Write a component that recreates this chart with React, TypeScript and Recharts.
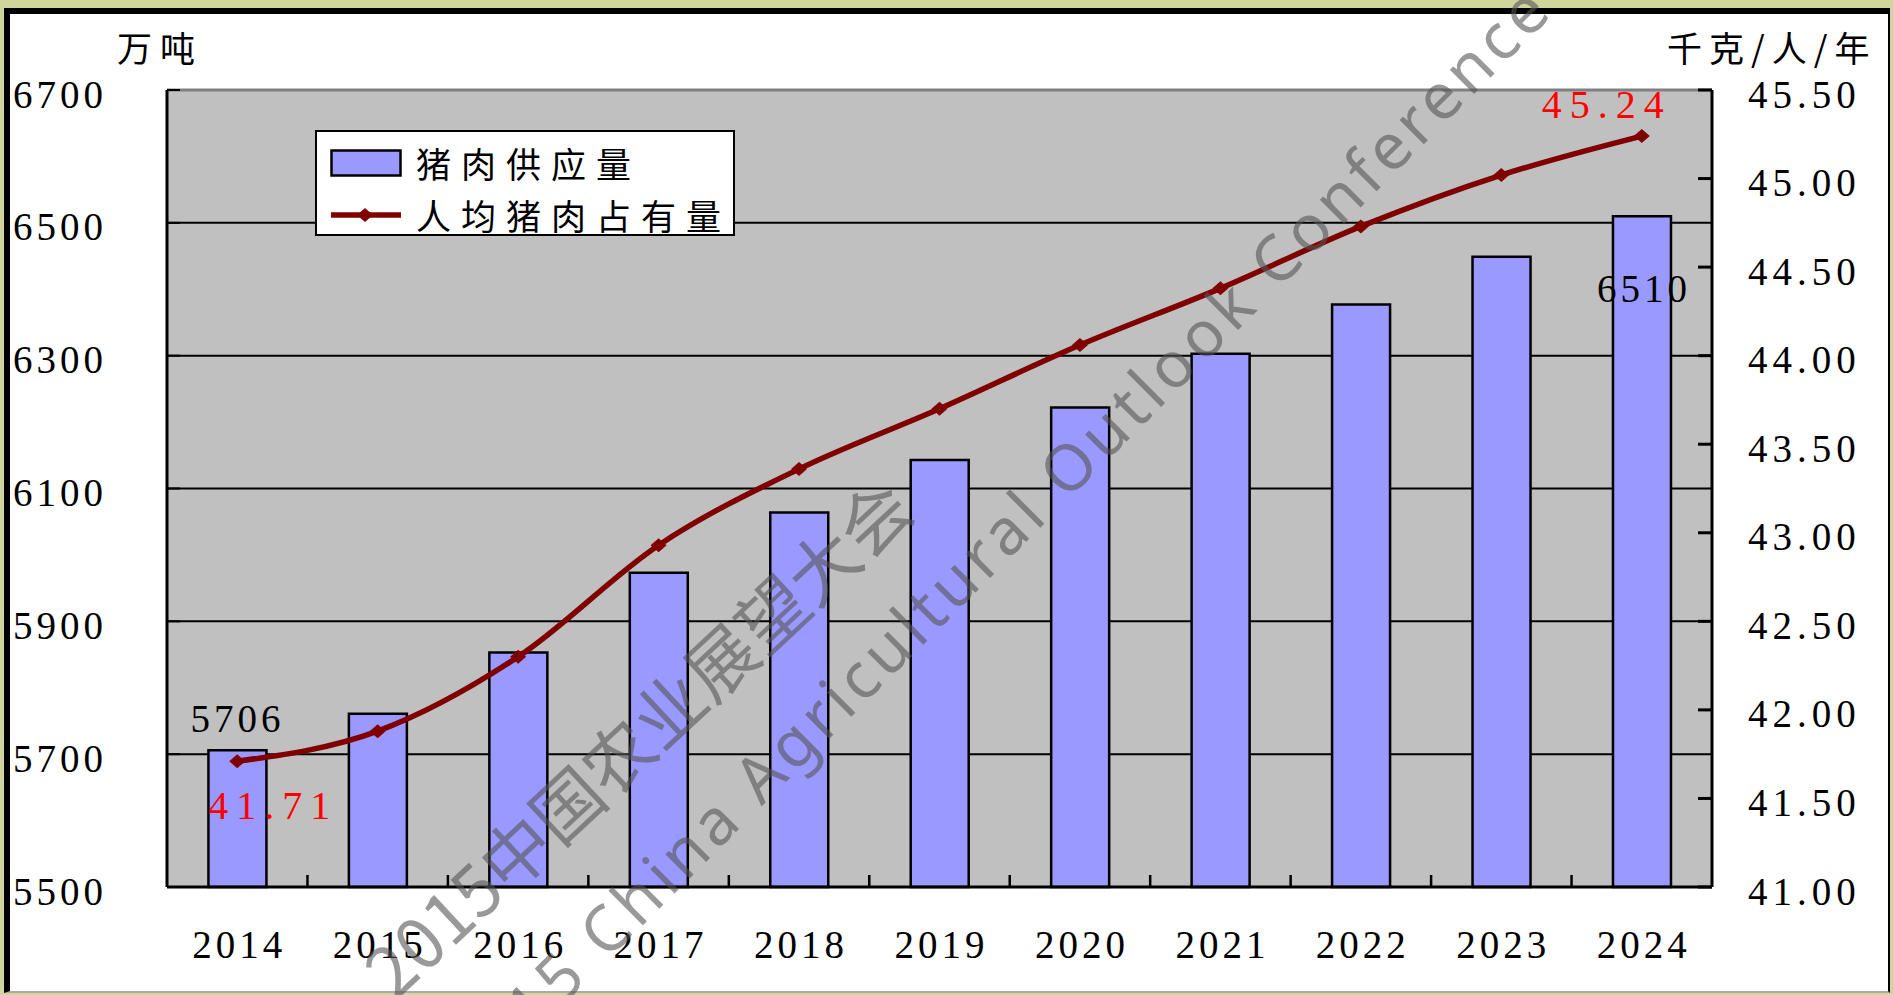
import React from 'react';
import { ComposedChart, Bar, Line, XAxis, YAxis, CartesianGrid, Legend, LabelList, ReferenceLine } from 'recharts';

const years = ['2014', '2015', '2016', '2017', '2018', '2019', '2020', '2021', '2022', '2023', '2024'];
const porkSupply = [5706, 5761, 5853, 5973, 6064, 6143, 6222, 6303, 6377, 6449, 6510];
const perCapitaPork = [41.71, 41.88, 42.3, 42.93, 43.36, 43.7, 44.06, 44.38, 44.73, 45.02, 45.24];
const leftTicks = [5500, 5700, 5900, 6100, 6300, 6500, 6700];
const rightTicks = [41, 41.5, 42, 42.5, 43, 43.5, 44, 44.5, 45, 45.5];

const supplyName = '猪肉供应量';
const perCapitaName = '人均猪肉占有量';
const legendOrder = [supplyName, perCapitaName];
const leftUnit = '万吨';
const rightUnit = '千克/人/年';
const watermarkCn = '2015中国农业展望大会';
const watermarkEn = '2015 China Agricultural Outlook Conference';

const data = years.map((year, i) => ({
    year,
    supply: porkSupply[i],
    perCapita: perCapitaPork[i],
}));

const SERIF = '"Liberation Serif", "DejaVu Serif", serif';
const CJK = '"Noto Sans CJK SC", "Noto Sans", sans-serif';
const LAST = years.length - 1;

const Diamond = (props: any) => {
    const { cx, cy } = props;
    if (cx == null || cy == null) return null;
    return (
        <polygon
            points={`${cx - 8},${cy} ${cx},${cy - 7} ${cx + 8},${cy} ${cx},${cy + 7}`}
            fill="#800000"
        />
    );
};

const LeftTick = ({ x, y, payload }: any) => (
    <g>
        <line x1={x} x2={x + 13} y1={y} y2={y} stroke="#000" strokeWidth={2} />
        <text x={x - 154} y={y + 4} dominantBaseline="central" fontFamily={SERIF} fontSize={39} letterSpacing={4} fill="#000">
            {payload.value}
        </text>
    </g>
);

const RightTick = ({ x, y, payload }: any) => (
    <g>
        <line x1={x - 14} x2={x} y1={y} y2={y} stroke="#000" strokeWidth={3} />
        <text x={x + 36} y={y + 4} dominantBaseline="central" fontFamily={SERIF} fontSize={39} letterSpacing={5} fill="#000">
            {Number(payload.value).toFixed(2)}
        </text>
    </g>
);

const XTick = ({ x, y, payload, index }: any) => {
    const half = payload.offset ?? 70;
    return (
        <g>
            {index < LAST && (
                <line x1={x + half} x2={x + half} y1={y} y2={y - 12} stroke="#000" strokeWidth={2.5} />
            )}
            <text x={x + 2} y={y + 57} textAnchor="middle" dominantBaseline="central" fontFamily={SERIF} fontSize={39} letterSpacing={4} fill="#000">
                {payload.value}
            </text>
        </g>
    );
};

const BarValueLabel = (props: any) => {
    const { x, y, width, value, index } = props;
    const style = { fontFamily: SERIF, fontSize: 39, letterSpacing: 4 };
    if (index === 0) {
        return <text x={x + width / 2} y={y - 32} textAnchor="middle" dominantBaseline="central" fill="#000" style={style}>{value}</text>;
    }
    if (index === LAST) {
        return <text x={x + width / 2 + 2} y={y + 72} textAnchor="middle" dominantBaseline="central" fill="#000" style={style}>{value}</text>;
    }
    return null;
};

const LineValueLabel = (props: any) => {
    const { x, y, value, index } = props;
    const style = { fontFamily: SERIF, fontSize: 40, letterSpacing: 8 };
    if (index === 0) {
        return <text x={x + 36} y={y + 44} textAnchor="middle" dominantBaseline="central" fill="#ff0000" style={style}>{Number(value).toFixed(2)}</text>;
    }
    if (index === LAST) {
        return <text x={x - 35} y={y - 32} textAnchor="middle" dominantBaseline="central" fill="#ff0000" style={style}>{Number(value).toFixed(2)}</text>;
    }
    return null;
};

const LegendBox = ({ payload }: any) => {
    // bars first, like the original legend
    const items = [...(payload || [])].sort(
        (a: any, b: any) => legendOrder.indexOf(a.value) - legendOrder.indexOf(b.value)
    );
    return (
        <div style={{ width: 420, height: 106, boxSizing: 'border-box', border: '2px solid #000', background: '#fff', position: 'relative' }}>
            {items.map((entry: any, i: number) => (
                <div key={entry.value} style={{ position: 'absolute', left: 13, top: (i === 0 ? 31 : 83) - 22, height: 44, display: 'flex', alignItems: 'center' }}>
                    <svg width={72} height={30}>
                        {entry.type === 'line' ? (
                            <g>
                                <line x1={1} x2={71} y1={15} y2={15} stroke="#800000" strokeWidth={5.5} />
                                <polygon points="27,15 35,8 43,15 35,22" fill="#800000" />
                            </g>
                        ) : (
                            <rect x={1.5} y={2.5} width={69} height={25} fill="#9999ff" stroke="#000" strokeWidth={2.5} />
                        )}
                    </svg>
                    <span style={{ marginLeft: 14, fontFamily: CJK, fontSize: 35, letterSpacing: 10, color: '#000', lineHeight: '44px' }}>
                        {entry.value}
                    </span>
                </div>
            ))}
        </div>
    );
};

const App = () => {
    return (
        <div style={{ position: 'absolute', left: 0, top: 0, width: 1893, height: 995, background: '#d0d59c', overflow: 'hidden' }}>
            <div style={{ position: 'absolute', left: 4, top: 8, width: 1886, height: 985, boxSizing: 'border-box', background: '#fff', borderLeft: '6px solid #000', borderTop: '6px solid #000', borderRight: '2px solid #000', borderBottom: '2px solid #aaa' }} />
            <div style={{ position: 'absolute', left: 0, top: 0 }}>
                <ComposedChart
                    width={1893}
                    height={995}
                    data={data}
                    margin={{ top: 90, right: 10, bottom: 28, left: 17 }}
                    barCategoryGap="29.5%"
                >
                    <CartesianGrid yAxisId="left" vertical={false} stroke="#000" strokeWidth={2} fill="#c0c0c0" fillOpacity={1} />
                    <XAxis
                        dataKey="year"
                        interval={0}
                        height={80}
                        tickSize={0}
                        tickMargin={0}
                        tickLine={false}
                        axisLine={{ stroke: '#000', strokeWidth: 3 }}
                        tick={<XTick />}
                    />
                    <YAxis
                        yAxisId="left"
                        width={150}
                        domain={[5500, 6700]}
                        ticks={leftTicks}
                        interval={0}
                        tickSize={0}
                        tickMargin={0}
                        tickLine={false}
                        axisLine={{ stroke: '#000', strokeWidth: 3 }}
                        tick={<LeftTick />}
                        label={{
                            content: () => (
                                <text x={117} y={46} dominantBaseline="central" fontFamily={CJK} fontSize={35} letterSpacing={8} fill="#000">
                                    {leftUnit}
                                </text>
                            ),
                        }}
                    />
                    <YAxis
                        yAxisId="right"
                        orientation="right"
                        width={171}
                        domain={[41, 45.5]}
                        ticks={rightTicks}
                        interval={0}
                        tickSize={0}
                        tickMargin={0}
                        tickLine={false}
                        axisLine={{ stroke: '#000', strokeWidth: 3 }}
                        tick={<RightTick />}
                        label={{
                            content: () => (
                                <text x={1667} y={46} dominantBaseline="central" fontFamily={CJK} fontSize={35} letterSpacing={7} fill="#000">
                                    {rightUnit}
                                </text>
                            ),
                        }}
                    />
                    <ReferenceLine yAxisId="left" y={6700} stroke="#808080" strokeWidth={3} />
                    <Legend
                        layout="vertical"
                        align="center"
                        verticalAlign="middle"
                        content={<LegendBox />}
                        wrapperStyle={{ left: 315, top: 130, width: 420, height: 106 }}
                    />
                    <Bar
                        yAxisId="left"
                        dataKey="supply"
                        name={supplyName}
                        fill="#9999ff"
                        stroke="#000"
                        strokeWidth={2.5}
                        isAnimationActive={false}
                    >
                        <LabelList dataKey="supply" content={<BarValueLabel />} />
                    </Bar>
                    <Line
                        yAxisId="right"
                        type="monotone"
                        dataKey="perCapita"
                        name={perCapitaName}
                        stroke="#800000"
                        strokeWidth={5.5}
                        dot={<Diamond />}
                        activeDot={false}
                        isAnimationActive={false}
                    >
                        <LabelList dataKey="perCapita" content={<LineValueLabel />} />
                    </Line>
                </ComposedChart>
            </div>
            <svg width={1893} height={995} style={{ position: 'absolute', left: 0, top: 0, pointerEvents: 'none' }}>
                <text
                    transform="translate(918,514) rotate(-43)"
                    textAnchor="end"
                    fontFamily={CJK}
                    fontSize={70}
                    fill="#555"
                    fillOpacity={0.6}
                >
                    {watermarkCn}
                </text>
                <text
                    transform="translate(474,1094) rotate(-45)"
                    fontFamily='"Noto Sans", sans-serif'
                    fontSize={64}
                    letterSpacing={5}
                    fill="#555"
                    fillOpacity={0.6}
                >
                    {watermarkEn}
                </text>
            </svg>
        </div>
    );
};

export default App;
